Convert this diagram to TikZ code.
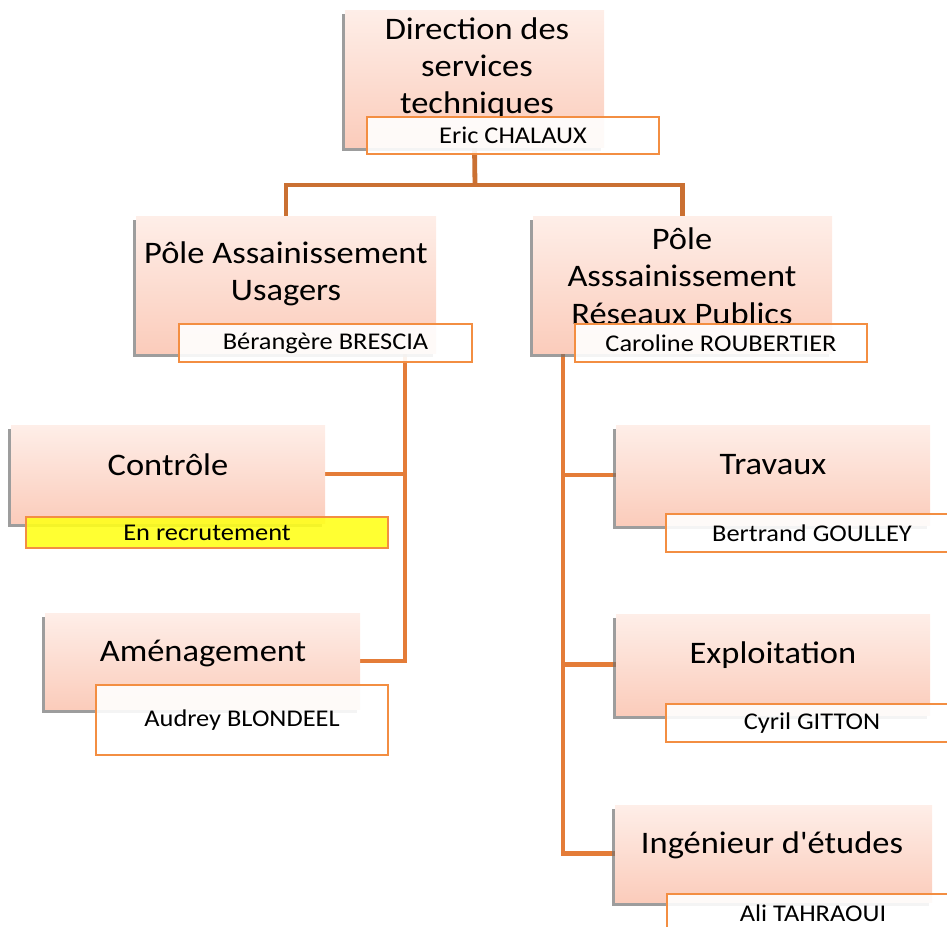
\documentclass[tikz,border=0pt]{standalone}
\usepackage{fontspec}
\setmainfont{Carlito}[FakeStretch=1.1]
\newfontfamily\plainquote{Carlito}[FakeStretch=1.1]
\usetikzlibrary{shadows,backgrounds}
\definecolor{trunkbrown}{RGB}{202,112,50}
\definecolor{branchorange}{RGB}{228,124,56}
\definecolor{rimorange}{RGB}{243,142,66}
\definecolor{pinktop}{RGB}{254,238,232}
\definecolor{pinkbot}{RGB}{251,204,187}
\definecolor{flagyellow}{RGB}{255,255,28}

\begin{document}
\begin{tikzpicture}[x=0.75pt,y=-0.75pt]
  \useasboundingbox (0,0) rectangle (947,926);  % Seitenformat
  \tikzstyle{unit}=[rectangle, inner sep=0pt, top color=pinktop, bottom color=pinkbot,
    drop shadow={shadow xshift=-2.5pt, shadow yshift=-3pt, fill=black!55, opacity=0.7}]
  \tikzstyle{title}=[align=center, inner sep=0pt, font=\fontsize{23.5}{28}\selectfont]
  \tikzstyle{person}=[rectangle, inner sep=0pt, draw=rimorange, line width=1.1pt,
    fill=white, fill opacity=0.9, text opacity=1, font=\fontsize{18}{20}\selectfont]
  \tikzstyle{trunk}=[draw=trunkbrown, line width=3.6pt]
  \tikzstyle{branch}=[draw=branchorange, line width=3.4pt]

  % Direction
  \node[unit, minimum width=194.25pt, minimum height=102.75pt] (dst) at (474.5,78.5) {};
  \node[title] (dsttxt) at (477,68) {Direction des\\services\\techniques};
  \node[person, minimum width=219pt, minimum height=27.75pt] (chalaux) at (513,135.5) {Eric CHALAUX};

  % Poles
  \node[unit, minimum width=225pt, minimum height=102.75pt] (usagers) at (286,284.5) {};
  \node[title] (usagerstxt) at (286,274) {P\^ole Assainissement\\Usagers};
  \node[person, minimum width=219.75pt, minimum height=28.5pt] (brescia) at (325.5,343) {B\'erang\`ere BRESCIA};

  \node[unit, minimum width=224.25pt, minimum height=102.75pt] (reseaux) at (682.5,284.5) {};
  \node[title] (reseauxtxt) at (682,276) {P\^ole\\Asssainissement\\R\'eseaux Publics};
  \node[person, minimum width=219pt, minimum height=28.5pt] (roubertier) at (721,343) {Caroline ROUBERTIER};

  % Usagers
  \node[unit, minimum width=235.5pt, minimum height=73.5pt] (controle) at (168,474) {};
  \node[title] (controletxt) at (168,465) {Contr\^ole};
  \node[person, fill=flagyellow, minimum width=271.5pt, minimum height=23.25pt] (recrut) at (207,532.5) {En recrutement};

  \node[unit, minimum width=236.25pt, minimum height=72pt] (amenag) at (202.5,661) {};
  \node[title] (amenagtxt) at (203,653) {Am\'enagement};
  \node[person, minimum width=219pt, minimum height=52.5pt] (blondeel) at (242,720) {Audrey BLONDEEL};

  % Reseaux publics
  \node[unit, minimum width=235.5pt, minimum height=75pt] (travaux) at (773,475) {};
  \node[title] (travauxtxt) at (773,465) {Travaux};
  \node[person, minimum width=219pt, minimum height=28.5pt] (goulley) at (812,533) {Bertrand GOULLEY};

  \node[unit, minimum width=235.5pt, minimum height=75.75pt] (exploit) at (773,664.5) {};
  \node[title] (exploittxt) at (773,655) {Exploitation};
  \node[person, minimum width=219pt, minimum height=28.5pt] (gitton) at (812,723) {Cyril GITTON};

  \node[unit, minimum width=237.75pt, minimum height=72.75pt] (etudes) at (773.5,853.5) {};
  \node[title] (etudestxt) at (772,845) {Ing\'enieur d{\plainquote'}\'etudes};
  \node[person, minimum width=219pt, minimum height=28.5pt] (tahraoui) at (813,913) {Ali TAHRAOUI};

  \coordinate (hub) at (475,185);
  \coordinate (lspine) at (405,353);
  \coordinate (rspine) at (563,353);

  \begin{scope}[on background layer]
    \path[trunk] (dst.south) -- (hub);
    \path[trunk] (usagers.north) |- (hub) -| (reseaux.north);
    \path[branch] (lspine) |- (amenag.east);
    \path[branch] (controle.east) -- (controle.east -| lspine);
    \path[branch] (rspine) |- (etudes.west);
    \path[branch] (travaux.west) -- (travaux.west -| rspine);
    \path[branch] (exploit.west) -- (exploit.west -| rspine);
  \end{scope}
\end{tikzpicture}
\end{document}
